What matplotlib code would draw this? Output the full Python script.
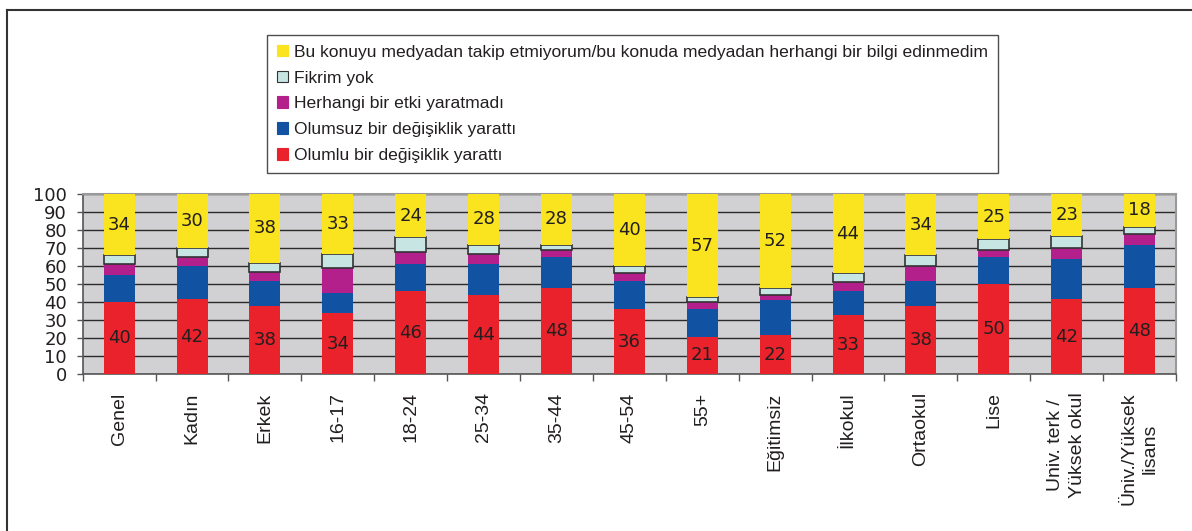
import matplotlib.pyplot as plt
import numpy as np
from matplotlib.patches import Patch

plt.rcParams['font.family'] = ['Liberation Sans', 'DejaVu Sans']

categories = ["Genel", "Kadın", "Erkek", "16-17", "18-24", "25-34", "35-44", "45-54", "55+",
              "Eğitimsiz", "İlkokul", "Ortaokul", "Lise", "Univ. terk /\nYüksek okul",
              "Üniv./Yüksek\nlisans"]

olumlu = [40, 42, 38, 34, 46, 44, 48, 36, 21, 22, 33, 38, 50, 42, 48]
olumsuz = [15, 18, 14, 11, 15, 17, 17, 16, 15, 19, 13, 14, 15, 22, 24]
etki_yok = [6, 5, 5, 14, 7, 6, 4, 4, 4, 3, 5, 8, 4, 6, 6]
fikrim_yok = [5, 5, 5, 8, 8, 5, 3, 4, 3, 4, 5, 6, 6, 7, 4]
takip_yok = [34, 30, 38, 33, 24, 28, 28, 40, 57, 52, 44, 34, 25, 23, 18]

series_names = ["Olumlu bir değişiklik yarattı",
                "Olumsuz bir değişiklik yarattı",
                "Herhangi bir etki yaratmadı",
                "Fikrim yok",
                "Bu konuyu medyadan takip etmiyorum/bu konuda medyadan herhangi bir bilgi edinmedim"]
colors = ["#ea222b", "#1152a2", "#b3208b", "#c6e5e3", "#f9e41f"]

# the original numbers look horizontally wide, DejaVu is closer for those
num_font = ['DejaVu Sans']

fig = plt.figure(figsize=(11.92, 5.31), dpi=100)
ax = fig.add_axes([0.0694, 0.2951, 0.9172, 0.339])
ax.set_facecolor("#d1d1d3")

x = np.arange(len(categories))
w = 0.425
bottom = np.zeros(len(categories))
data = [olumlu, olumsuz, etki_yok, fikrim_yok, takip_yok]
for i, vals in enumerate(data):
    vals = np.array(vals, dtype=float)
    if i == 3:
        ax.bar(x, vals, w, bottom=bottom, color=colors[i], edgecolor="#333333",
               linewidth=1.2, zorder=3)
    else:
        ax.bar(x, vals, w, bottom=bottom, color=colors[i], linewidth=0, zorder=3)
    if i in (0, 4):
        for xi, b, v in zip(x, bottom, vals):
            ax.text(xi, b + v / 2, f"{int(v)}", ha="center", va="center",
                    fontsize=13, family=num_font, color="#231f20", zorder=4)
    bottom += vals

ax.set_xlim(-0.5, len(categories) - 0.5)
ax.set_ylim(0, 100)
ax.set_yticks(np.arange(0, 101, 10))
ax.set_yticklabels([str(v) for v in range(0, 101, 10)], family=num_font, fontsize=13)
ax.tick_params(axis="y", length=4.3, width=1, color="#555555",
               labelcolor="#231f20", pad=7)
ax.yaxis.grid(True, color="#2a2a2a", linewidth=1)
ax.set_axisbelow(True)

ax.set_xticks(x)
ax.set_xticklabels(categories, rotation=90, fontsize=14, color="#231f20",
                   ha="center", va="top", multialignment="center", linespacing=1.35)
ax.tick_params(axis="x", length=0, pad=13)
ax.set_xticks(np.arange(-0.5, len(categories), 1), minor=True)
ax.tick_params(axis="x", which="minor", length=5, width=1, color="#555555")

for s in ["left", "bottom"]:
    ax.spines[s].set_color("#555555")
    ax.spines[s].set_linewidth(1.2)
for s in ["top", "right"]:
    ax.spines[s].set_color("#9a9a9a")
    ax.spines[s].set_linewidth(1.5)

handles = [Patch(facecolor=colors[i], edgecolor="#333333" if i == 3 else colors[i],
                 linewidth=0.8) for i in range(4, -1, -1)]
labels = [series_names[i] for i in range(4, -1, -1)]
leg = fig.legend(handles, labels, loc="upper left", bbox_to_anchor=(0.224, 0.934),
                 fontsize=12.6, frameon=True, fancybox=False, edgecolor="#222222",
                 handlelength=0.65, handleheight=0.65, handletextpad=0.35,
                 labelspacing=0.62, borderpad=0.55, borderaxespad=0)
leg.get_frame().set_linewidth(1.0)
for t in leg.get_texts():
    t.set_color("#231f20")

# outer frame lines (top and left only)
fig.add_artist(plt.Line2D([0.006, 1.0], [0.981, 0.981], color="#333333", linewidth=1.5))
fig.add_artist(plt.Line2D([0.006, 0.006], [0.0, 0.981], color="#333333", linewidth=1.5))

fig.savefig("out.png", dpi=100)
